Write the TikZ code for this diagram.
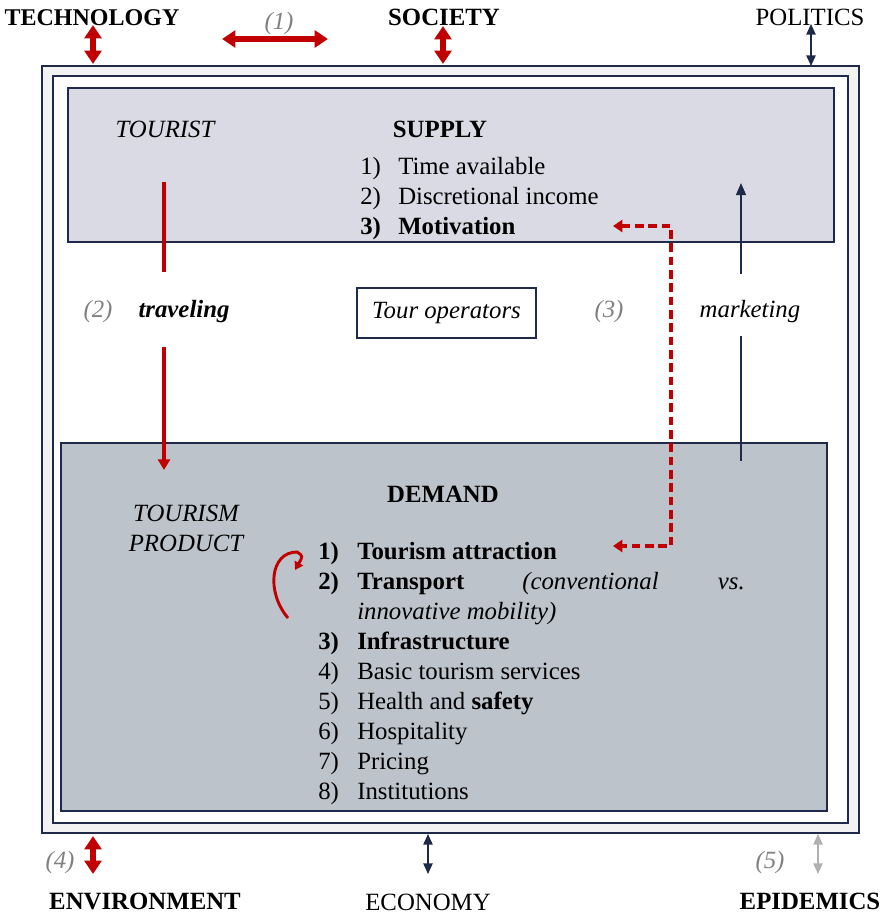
\documentclass[tikz,border=0pt]{standalone}
\usepackage{fontspec}
\setmainfont{Liberation Serif}
\usetikzlibrary{arrows.meta,positioning,fit}
\definecolor{navy}{RGB}{31,42,74}
\definecolor{darkred}{RGB}{192,0,0}
\definecolor{notegray}{RGB}{128,128,128}
\definecolor{pale}{RGB}{176,176,176}
\definecolor{supplyfill}{RGB}{217,218,227}
\definecolor{demandfill}{RGB}{189,195,202}
\definecolor{ringfill}{RGB}{242,242,242}
\newcommand{\bodyfont}{\fontsize{18.6}{22}\selectfont}
\newcommand{\note}[1]{{\color{notegray}\itshape #1}}

\begin{document}
\begin{tikzpicture}[x=0.75pt,y=-0.75pt,font=\bodyfont,
  frame/.style={draw=navy,line width=1.5pt,inner sep=0pt},
  lbl/.style={anchor=base,inner sep=0pt},
  itm/.style={anchor=base west,inner sep=0pt},
  bold/.style={font=\bodyfont\bfseries},
  ital/.style={font=\bodyfont\itshape},
  bigred/.style={darkred,line width=3.8pt,
    {Triangle[length=10pt,width=12.5pt]}-{Triangle[length=10pt,width=12.5pt]}},
  thinlink/.style={line width=1.1pt,
    {Triangle[length=8pt,width=7pt]}-{Triangle[length=8pt,width=7pt]}},
  redflow/.style={darkred,line width=2.6pt},
  redtip/.style={-{Triangle[length=8pt,width=9pt]}},
  reddash/.style={darkred,line width=2.4pt,dash pattern=on 6.5pt off 3.5pt,
    {Triangle[length=7pt,width=9pt]}-{Triangle[length=7pt,width=9pt]}}]
  \useasboundingbox (0,0) rectangle (883,914);

  % nested frame with the two blocks
  \node[frame,fill=ringfill,fit={(42,66) (859,833)}] (outer) {};
  \node[frame,fill=white,fit={(53,76) (848,823)}] (inner) {};
  \node[frame,fill=supplyfill,fit={(68,88) (834,242)}] (supply) {};
  \node[frame,fill=demandfill,fit={(61,443) (827,811)}] (demand) {};

  % outside forces
  \node[lbl,font=\fontsize{18}{22}\selectfont\bfseries] (tech) at (92,25) {TECHNOLOGY};
  \node[lbl,bold] (soc) at (444,25) {SOCIETY};
  \node[lbl] (pol) at (810,25) {POLITICS};
  \node[lbl] (one) at (279,29) {\note{(1)}};
  \node[lbl,bold] (env) at (145,909) {ENVIRONMENT};
  \node[lbl] (eco) at (428,910) {ECONOMY};
  \node[lbl,bold] (epi) at (810,909) {EPIDEMICS};
  \node[lbl] (four) at (60,868) {\note{(4)}};
  \node[lbl] (five) at (770,868) {\note{(5)}};

  \coordinate (techA) at (93,25);   \coordinate (techB) at (93,64);
  \coordinate (socA) at (443,26);   \coordinate (socB) at (443,64);
  \coordinate (polA) at (811,24);   \coordinate (polB) at (811,66);
  \coordinate (envA) at (93,836);   \coordinate (envB) at (93,874);
  \coordinate (ecoA) at (428,834);  \coordinate (ecoB) at (428,874);
  \coordinate (epiA) at (818,834);  \coordinate (epiB) at (818,874);
  \coordinate (oneA) at (222,39);   \coordinate (oneB) at (328,39);
  \draw[bigred] (techA) -- (techB);
  \draw[bigred] (socA) -- (socB);
  \draw[bigred] (oneA) -- (oneB);
  \draw[bigred] (envA) -- (envB);
  \draw[thinlink,navy] (polA) -- (polB);
  \draw[thinlink,navy] (ecoA) -- (ecoB);
  \draw[thinlink,pale] (epiA) -- (epiB);

  % supply block
  \node[lbl,ital] (tourist) at (165,137) {TOURIST};
  \node[lbl,bold] (suptitle) at (440,137) {SUPPLY};
  \foreach \num/\txt/\yb [count=\k] in {1)/Time available/174,
      2)/Discretional income/204,
      {\bfseries 3)}/{\bfseries Motivation}/234}{
    \node[itm] (snum\k) at (360,\yb) {\num};
    \node[itm] (sitem\k) at (398,\yb) {\txt};
  }

  % middle band
  \node[lbl] (two) at (98,317) {\note{(2)}};
  \node[lbl,font=\bodyfont\bfseries\itshape] (travel) at (184,317) {traveling};
  \node[draw=navy,line width=1.1pt,minimum width=134pt,minimum height=37.5pt,
    ital] (tourop) at (446.5,313) {Tour operators};
  \node[lbl] (three) at (609,317) {\note{(3)}};
  \node[lbl,ital] (mkt) at (750,317) {marketing};

  % demand block
  \node[lbl,bold] (demtitle) at (443,502) {DEMAND};
  \node[lbl,ital] (prod1) at (186,521) {TOURISM};
  \node[lbl,ital] (prod2) at (186,551) {PRODUCT};
  \foreach \num/\txt/\yb [count=\k] in {{\bfseries 1)}/{\bfseries Tourism attraction}/559,
      {\bfseries 2)}/{\bfseries Transport}/589,
      {\bfseries 3)}/{\bfseries Infrastructure}/649,
      4)/Basic tourism services/679,
      5)/{Health and \textbf{safety}}/709,
      6)/Hospitality/739,
      7)/Pricing/769,
      8)/Institutions/799}{
    \node[itm] (dnum\k) at (318,\yb) {\num};
    \node[itm] (ditem\k) at (357,\yb) {\txt};
  }
  \node[itm,ital] (conv) at (522,589) {(conventional};
  \node[anchor=base east,inner sep=0pt,ital] (vs) at (745,589) {vs.};
  \node[itm,ital] (mob) at (357,619) {innovative mobility)};

  % flows
  \coordinate (trA) at (164,182);  \coordinate (trB) at (164,272);
  \coordinate (trC) at (164,347);  \coordinate (trD) at (164,470);
  \draw[redflow] (trA) -- (trB);
  \draw[redflow,redtip] (trC) -- (trD);

  \coordinate (mkA) at (741,461);  \coordinate (mkB) at (741,336);
  \coordinate (mkC) at (741,274);  \coordinate (mkD) at (741,183);
  \draw[navy,line width=0.9pt] (mkA) -- (mkB);
  \draw[navy,line width=0.9pt,-{Triangle[length=9pt,width=7.5pt]}] (mkC) -- (mkD);

  \coordinate (dsTop) at (613,226);  \coordinate (dsBot) at (613,546);
  \draw[reddash] (dsTop) -- (671,226) -- (671,546) -- (dsBot);

  \coordinate (loopA) at (288,618);  \coordinate (loopB) at (295,570);
  \draw[darkred,line width=2.2pt,-{Triangle[length=6pt,width=7pt]}]
    (loopA) .. controls (266,592) and (270,552) .. (297,552)
    .. controls (303,556) .. (loopB);
\end{tikzpicture}
\end{document}
